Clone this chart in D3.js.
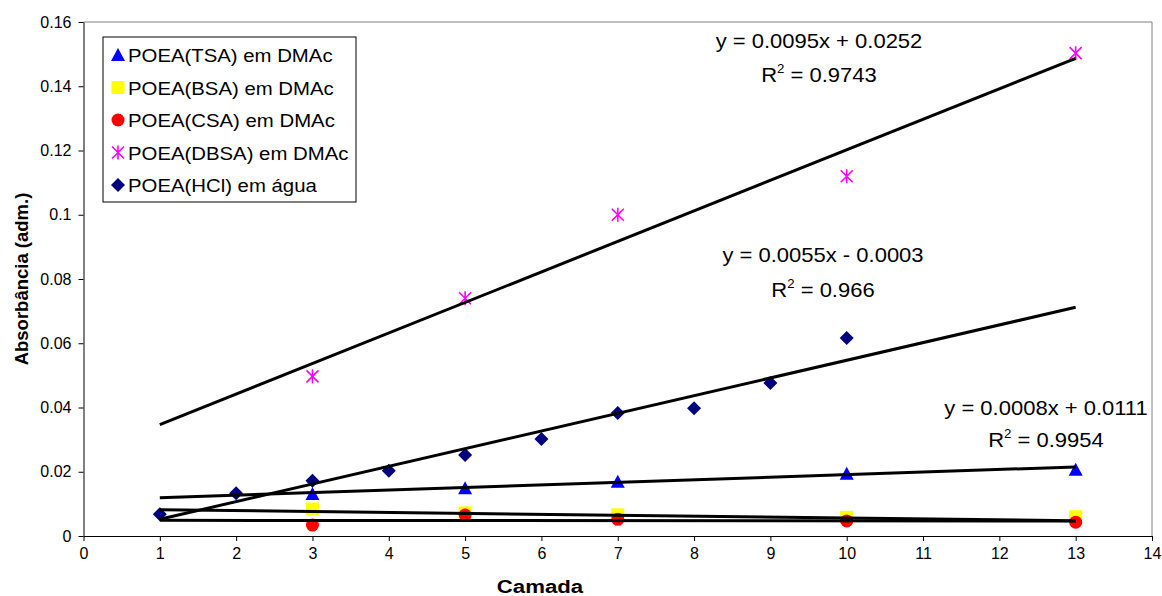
<!DOCTYPE html>
<html><head><meta charset="utf-8">
<script src="https://cdn.jsdelivr.net/npm/d3@7"></script>
<style>
body{margin:0;background:#fff;}
svg text{font-family:"Liberation Sans",Arial,sans-serif;fill:#000;}
</style></head>
<body><svg id="c" width="1162" height="596"></svg>
<script>
// ---- data ----
const seriesNames = ["POEA(TSA) em DMAc","POEA(BSA) em DMAc","POEA(CSA) em DMAc","POEA(DBSA) em DMAc","POEA(HCl) em água"];
const xTSA = [3,5,7,10,13];
const yTSA = [0.0131,0.0149,0.0169,0.0194,0.0206];
const xBSA = [3,5,7,10,13];
const yBSA = [0.0084,0.0072,0.0066,0.0058,0.0060];
const xCSA = [3,5,7,10,13];
const yCSA = [0.0034,0.0065,0.0052,0.0047,0.0043];
const xDBSA = [3,5,7,10,13];
const yDBSA = [0.0497,0.0740,0.1000,0.1120,0.1503];
const xHCl = [1,2,3,4,5,6,7,8,9,10];
const yHCl = [0.0068,0.0133,0.0172,0.0203,0.0252,0.0302,0.0383,0.0398,0.0476,0.0616];
// trendline coefficients (slope, intercept), drawn over x = 1..13
const trendSlope = [0.0008, -0.00029, -0.00002, 0.0095, 0.0055];
const trendIntercept = [0.0111, 0.0085, 0.0049, 0.0252, -0.0003];
const trendRange = [1, 13];
const eqLabels = ["y = 0.0008x + 0.0111", null, null, "y = 0.0095x + 0.0252", "y = 0.0055x - 0.0003"];
const r2Labels = ["0.9954", null, null, "0.9743", "0.966"];
const xTicks = d3.range(0, 15, 1);
const yTicks = [0,0.02,0.04,0.06,0.08,0.1,0.12,0.14,0.16];
const xTitle = "Camada";
const yTitle = "Absorbância (adm.)";

// ---- layout ----
const svg = d3.select("#c");
const L = 83.5, R = 1152, T = 22, B = 536;
const x = d3.scaleLinear().domain([0,14]).range([L,R]);
const y = d3.scaleLinear().domain([0,0.16]).range([B,T]);

// frame (top/right grey)
svg.append("path").attr("d",`M${L},${T}H${R}V${B}`).attr("fill","none").attr("stroke","#808080").attr("stroke-width",1);

// axes
const xAxis = svg.append("g").attr("transform",`translate(0,${B})`)
  .call(d3.axisBottom(x).tickValues(xTicks).tickSize(5).tickSizeOuter(0).tickFormat(d3.format("d")));
const yAxis = svg.append("g").attr("transform",`translate(${L},0)`)
  .call(d3.axisLeft(y).tickValues(yTicks).tickSize(5).tickSizeOuter(0).tickFormat(d => String(+d.toFixed(2))));
[xAxis,yAxis].forEach(g=>{
  g.select(".domain").attr("stroke","#000");
  g.selectAll(".tick line").attr("stroke","#000");
  g.selectAll(".tick text").attr("font-size","16px").attr("font-family","Liberation Sans, Arial, sans-serif").attr("fill","#000");
});
xAxis.selectAll(".tick text").attr("y",12).attr("dy","0.71em");
yAxis.selectAll(".tick text").attr("x",-12);

// titles
svg.append("text").attr("transform",`translate(540,593) scale(1.2,1)`)
  .attr("text-anchor","middle").attr("font-weight","bold").attr("font-size","18.5px").text(xTitle);
svg.append("text").attr("transform",`translate(28,${(T+B)/2}) rotate(-90)`)
  .attr("text-anchor","middle").attr("font-weight","bold").attr("font-size","18.5px").text(yTitle);

// markers
const xs = [xTSA,xBSA,xCSA,xDBSA,xHCl], ys = [yTSA,yBSA,yCSA,yDBSA,yHCl];
function marker(g, i, cx, cy){
  if(i===0){ g.append("path").attr("d",`M${cx},${cy-7}L${cx+7},${cy+6}L${cx-7},${cy+6}Z`).attr("fill","#0000FF"); }
  else if(i===1){ g.append("rect").attr("x",cx-6.5).attr("y",cy-6.5).attr("width",13).attr("height",13).attr("fill","#FFFF00"); }
  else if(i===2){ g.append("circle").attr("cx",cx).attr("cy",cy).attr("r",6.5).attr("fill","#FF0000"); }
  else if(i===3){ const s=6; g.append("path")
      .attr("d",`M${cx-s},${cy-s}L${cx+s},${cy+s}M${cx-s},${cy+s}L${cx+s},${cy-s}M${cx},${cy-s-1}V${cy+s+1}`)
      .attr("stroke","#FF00FF").attr("stroke-width",1.6).attr("fill","none"); }
  else { const s=7; g.append("path").attr("d",`M${cx},${cy-s}L${cx+s},${cy}L${cx},${cy+s}L${cx-s},${cy}Z`).attr("fill","#000080"); }
}
const mg = svg.append("g");
xs.forEach((xa,i)=>xa.forEach((xv,j)=>marker(mg,i,x(xv),y(ys[i][j]))));

// trendlines
const tg = svg.append("g");
trendSlope.forEach((m,i)=>{
  const b = trendIntercept[i];
  tg.append("line").attr("x1",x(trendRange[0])).attr("y1",y(m*trendRange[0]+b))
    .attr("x2",x(trendRange[1])).attr("y2",y(m*trendRange[1]+b))
    .attr("stroke","#000").attr("stroke-width",3).attr("stroke-linecap","butt");
});

// equation labels
const eqPos = [[1046,415,447],null,null,[819,48,82],[823,262,297]];
eqLabels.forEach((t,i)=>{
  if(!t) return;
  const [cx,y1,y2] = eqPos[i];
  svg.append("text").attr("transform",`translate(${cx},${y1}) scale(1.1,1)`).attr("text-anchor","middle")
    .attr("font-size","20px").text(t);
  const r = svg.append("text").attr("transform",`translate(${cx},${y2}) scale(1.1,1)`).attr("text-anchor","middle")
    .attr("font-size","20px");
  r.append("tspan").text("R");
  r.append("tspan").attr("font-size","12px").attr("dy",-9).text("2");
  r.append("tspan").attr("dy",9).text(" = " + r2Labels[i]);
});

// legend
const lg = svg.append("g");
lg.append("rect").attr("x",103).attr("y",37).attr("width",253).attr("height",165)
  .attr("fill","#fff").attr("stroke","#000").attr("stroke-width",1);
seriesNames.forEach((n,i)=>{
  const cy = 55 + i*32.5;
  marker(lg, i, 118, cy);
  lg.append("text").attr("transform",`translate(128,${cy+7}) scale(1.1,1)`).attr("font-size","18.5px").text(n);
});
</script></body></html>
